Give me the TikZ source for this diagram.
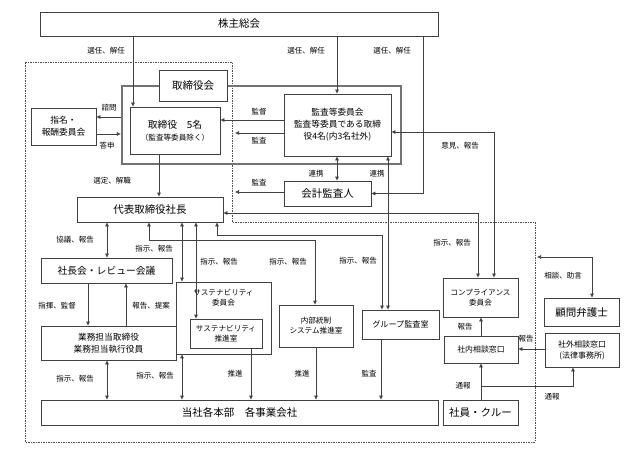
\documentclass[tikz,border=0pt]{standalone}
\usepackage{fontspec}
\setmainfont{Noto Sans CJK JP}
\usetikzlibrary{arrows.meta}

\newcommand\szL{\fontsize{10.5}{12}\selectfont}
\newcommand\szM{\fontsize{8.7}{12}\selectfont}
\newcommand\szS{\fontsize{7.6}{10}\selectfont}

\tikzset{
  box/.style={draw=black!75, fill=white, line width=0.6pt, inner sep=1pt, align=center},
  lbl/.style={font=\fontsize{7.5}{9}\selectfont, inner sep=0pt},
  arr/.style={draw=black!75, line width=0.6pt, -{Latex[length=4pt,width=4pt]}},
  dblarr/.style={draw=black!75, line width=0.6pt, {Latex[length=4pt,width=4pt]}-{Latex[length=4pt,width=4pt]}},
}

\begin{document}
\begin{tikzpicture}[x=1pt,y=-1pt]
  \useasboundingbox (0,0) rectangle (625,450);
  % company area
  \draw[black!70, dash pattern=on 1.5pt off 1pt, line width=0.6pt]
    (25,62) -- (232,62) -- (232,222) -- (535,222) -- (535,442) -- (25,442) -- cycle;
  \coordinate (kansapt) at (235,133);
  \coordinate (kaikeipt) at (235,192);
  \coordinate (sodanpt) at (537,257);

  % boxes
  \node[box, minimum width=398pt, minimum height=24pt, font=\szL] (kabu) at (239,24) {株主総会};
  \node[draw=black!55, line width=2.4pt, minimum width=279pt, minimum height=78pt] (boardfr) at (261.5,125) {};
  \node[box, minimum width=68pt, minimum height=31pt, font=\szL] (torikai) at (193,85.5) {取締役会};
  \node[box, minimum width=90pt, minimum height=47pt] (tori5) at (175,130.5)
    {{\fontsize{9.8}{14}\selectfont 取締役　5名}\\{\szS （監査等委員除く）}};
  \node[box, minimum width=107pt, minimum height=62pt, font=\szM] (kansa) at (337.5,125)
    {監査等委員会\\監査等委員である取締\\役4名(内3名社外)};
  \node[box, minimum width=65pt, minimum height=37pt, font=\szM] (shimei) at (63.5,126.5) {指名・\\報酬委員会};
  \node[box, minimum width=87pt, minimum height=25pt, font=\szL] (kaikei) at (327.5,193.5) {会計監査人};
  \node[box, minimum width=146pt, minimum height=25pt, font=\szL] (shacho) at (150,209.5) {代表取締役社長};
  \node[box, minimum width=131pt, minimum height=25pt, font=\fontsize{9.8}{12}\selectfont] (shachokai) at (106.5,270.5) {社長会・レビュー会議};
  \node[box, minimum width=135pt, minimum height=34pt, font=\szM] (gyomu) at (108.5,343) {業務担当取締役\\業務担当執行役員};
  \node[box, minimum width=95pt, minimum height=72pt,
    label={[anchor=north, yshift=-4pt, align=center, font=\szS]north:{サステナビリティ\\委員会}}] (sustc) at (223.5,318) {};
  \node[box, minimum width=72pt, minimum height=29pt, font=\szS] (sustp) at (226,333.5) {サステナビリティ\\推進室};
  \node[box, minimum width=74pt, minimum height=42pt, font=\szS] (naibu) at (316,326) {内部統制\\システム推進室};
  \node[box, minimum width=77pt, minimum height=29pt, font=\fontsize{8.1}{10}\selectfont] (group) at (400.5,324.5) {グループ監査室};
  \node[box, minimum width=397pt, minimum height=25pt, font=\szL] (tosha) at (239.5,412.5) {当社各本部　各事業会社};
  \node[box, minimum width=75pt, minimum height=25pt, font=\szL] (shain) at (480.5,412.5) {社員・クルー};
  \node[box, minimum width=75pt, minimum height=39pt, font=\szS] (comp) at (480.5,297.5) {コンプライアンス\\委員会};
  \node[box, minimum width=74pt, minimum height=27pt, font=\fontsize{7.9}{10}\selectfont] (shanai) at (481,349.5) {社内相談窓口};
  \node[box, minimum width=74pt, minimum height=34pt, font=\fontsize{8}{11}\selectfont] (shagai) at (582,350) {社外相談窓口\\(法律事務所)};
  \node[box, minimum width=75pt, minimum height=28pt, font=\szL] (komon) at (581.5,312) {顧問弁護士};

  % connectors
  \draw[arr] (kabu.south -| 133,0) -- (tori5.north -| 133,0);
  \draw[arr] (kabu.south -| 337,0) -- (kansa.north -| 337,0);
  \draw[arr] (kabu.south -| 423,0) |- (kaikei.east);
  \draw[arr] (boardfr.west |- 0,117) -- (shimei.east |- 0,117);
  \draw[arr] (shimei.east |- 0,134) -- (boardfr.west |- 0,134);
  \draw[arr] (kansa.west |- 0,120) -- (tori5.east |- 0,120);
  \draw[arr] (kansa.west |- 0,133) -- (kansapt);
  \draw[arr] (tori5.south -| 159,0) -- (shacho.north -| 159,0);
  \draw[arr] (kaikei.west |- kaikeipt) -- (kaikeipt);
  \draw[dblarr] (kansa.south -| 337,0) -- (kaikei.north -| 337,0);
  \draw[dblarr] (kansa.south -| 388,0) -- (group.north -| 388,0);
  \draw[dblarr] (comp.north -| 494,0) |- (kansa.east |- 0,132);
  \draw[dblarr] (shacho.east |- 0,213) -| (comp.north -| 478,0);
  \draw[dblarr] (komon.north -| 592,0) |- (sodanpt);

  \draw[dblarr] (shacho.south -| 107,0) -- (shachokai.north -| 107,0);
  \draw[dblarr] (shacho.south -| 149,0) -- ++(0,18) -| (naibu.north -| 315,0);
  \draw[dblarr] (shacho.south -| 182,0) -- (sustc.north -| 182,0);
  \draw[dblarr] (shacho.south -| 196,0) -- (sustp.north -| 196,0);
  \draw[dblarr] (shacho.south -| 217,0) -- ++(0,13) -| (group.north -| 382,0);

  \draw[arr] (shachokai.south -| 88,0) -- (gyomu.north -| 88,0);
  \draw[arr] (gyomu.north -| 126,0) -- (shachokai.south -| 126,0);
  \draw[dblarr] (gyomu.south -| 107,0) -- (tosha.north -| 107,0);
  \draw[dblarr] (sustc.south -| 182,0) -- (tosha.north -| 182,0);
  \draw[arr] (sustp.south -| 251,0) -- (tosha.north -| 251,0);
  \draw[arr] (naibu.south -| 316,0) -- (tosha.north -| 316,0);
  \draw[arr] (group.south -| 381,0) -- (tosha.north -| 381,0);

  \draw[arr] (shanai.north -| 481,0) -- (comp.south -| 481,0);
  \draw[arr] (shain.north -| 481,0) -- (shanai.south -| 481,0);
  \draw[arr] (shain.north -| 481,0) ++(0,-13) -| (shagai.south -| 573,0);
  \draw[arr] (shagai.west |- 0,349) -- (shanai.east |- 0,349);

  % labels
  \node[lbl] (l1) at (106,51) {選任、解任};
  \node[lbl] (l2) at (306,51) {選任、解任};
  \node[lbl] (l3) at (392,51) {選任、解任};
  \node[lbl] (l4) at (109,108) {諮問};
  \node[lbl] (l5) at (107,146) {答申};
  \node[lbl] (l6) at (259,112) {監督};
  \node[lbl] (l7) at (259,141) {監査};
  \node[lbl] (l8) at (112,181) {選定、解職};
  \node[lbl] (l9) at (259,183) {監査};
  \node[lbl] (l10) at (316,174) {連携};
  \node[lbl] (l11) at (377,174) {連携};
  \node[lbl] (l12) at (460,146) {意見、報告};
  \node[lbl] (l13) at (452,243) {指示、報告};
  \node[lbl] (l14) at (563,276) {相談、助言};
  \node[lbl] (l15) at (75,240) {協議、報告};
  \node[lbl] (l16) at (154,249) {指示、報告};
  \node[lbl] (l17) at (219,262) {指示、報告};
  \node[lbl] (l18) at (288,262) {指示、報告};
  \node[lbl] (l19) at (358,261) {指示、報告};
  \node[lbl] (l20) at (57,306) {指揮、監督};
  \node[lbl] (l21) at (151,306) {報告、提案};
  \node[lbl] (l22) at (75,379) {指示、報告};
  \node[lbl] (l23) at (155,376) {指示、報告};
  \node[lbl] (l24) at (235,374) {推進};
  \node[lbl] (l25) at (302,374) {推進};
  \node[lbl] (l26) at (369,374) {監査};
  \node[lbl] (l27) at (465,327) {報告};
  \node[lbl] (l28) at (526,339) {報告};
  \node[lbl] (l29) at (463,386) {通報};
  \node[lbl] (l30) at (552,397) {通報};
\end{tikzpicture}
\end{document}
